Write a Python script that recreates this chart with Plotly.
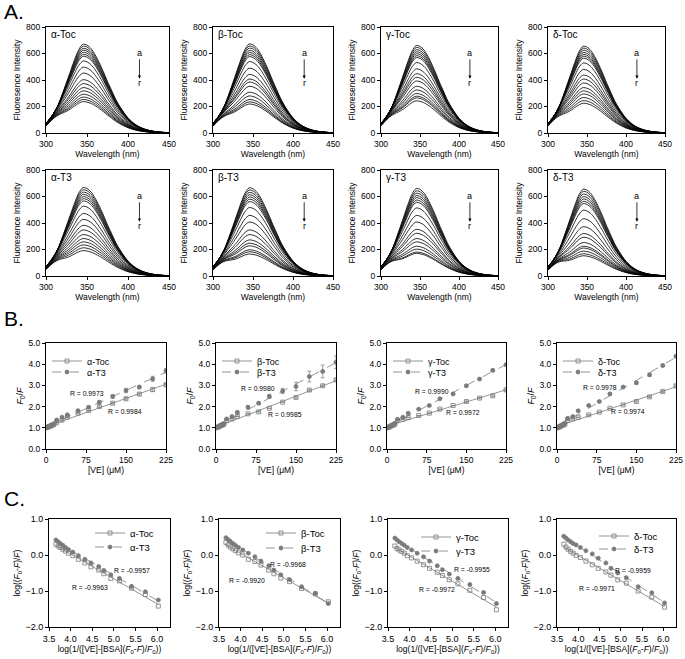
import numpy as np
import plotly.graph_objects as go

W, H = 685, 659
FONT = "Liberation Sans, Arial, sans-serif"
GRAY = "#7a7a7a"

# ---------------- Panel A data ----------------
WAVELENGTH = list(range(300, 451, 5))
# normalised emission shape of BSA (top curve / its peak)
BASE_SHAPE = [0.11, 0.16, 0.23, 0.32, 0.44, 0.57, 0.70, 0.83, 0.94, 1.00, 0.99,
              0.95, 0.88, 0.79, 0.69, 0.58, 0.48, 0.38, 0.30, 0.23, 0.17, 0.125,
              0.09, 0.064, 0.045, 0.031, 0.021, 0.014, 0.009, 0.006, 0.004]
# normalised shoulder (VE emission) near 310-315 nm
VE_BAND = [0.45, 0.80, 1.00, 1.00, 0.78, 0.50, 0.30, 0.17, 0.09, 0.05, 0.025,
           0.01, 0, 0, 0, 0, 0, 0, 0, 0, 0, 0, 0, 0, 0, 0, 0, 0, 0, 0, 0]
VE_BAND_AMP = [0, 4, 8, 12, 16, 19, 22, 28, 35, 41, 47, 51, 54, 56, 58, 59, 60, 60]
CURVE_LABELS = list("abcdefghijklmnopqr")

PEAK_ALPHA_TOC = [670, 655, 638, 624, 608, 592, 578, 542, 495, 450, 400, 370, 340, 315, 290, 268, 250, 234]
PEAK_BETA_TOC = [672, 656, 640, 622, 606, 590, 575, 537, 487, 440, 405, 382, 350, 305, 277, 250, 232, 216]
PEAK_GAMMA_TOC = [660, 645, 628, 612, 597, 582, 568, 530, 482, 445, 418, 390, 350, 322, 295, 275, 262, 240]
PEAK_DELTA_TOC = [655, 640, 624, 607, 592, 578, 563, 527, 478, 435, 405, 375, 340, 315, 292, 265, 242, 222]
PEAK_ALPHA_T3 = [667, 650, 632, 615, 598, 582, 565, 525, 470, 425, 380, 345, 310, 280, 255, 232, 210, 189]
PEAK_BETA_T3 = [665, 648, 630, 612, 595, 578, 560, 515, 455, 405, 345, 310, 270, 245, 225, 195, 180, 163]
PEAK_GAMMA_T3 = [660, 642, 624, 606, 590, 572, 555, 512, 455, 405, 350, 320, 280, 255, 222, 200, 178, 168]
PEAK_DELTA_T3 = [655, 638, 618, 598, 580, 562, 545, 495, 430, 370, 318, 290, 250, 222, 208, 185, 165, 150]

A_NAMES = ["α-Toc", "β-Toc", "γ-Toc", "δ-Toc", "α-T3", "β-T3", "γ-T3", "δ-T3"]
A_PEAKS = [PEAK_ALPHA_TOC, PEAK_BETA_TOC, PEAK_GAMMA_TOC, PEAK_DELTA_TOC,
           PEAK_ALPHA_T3, PEAK_BETA_T3, PEAK_GAMMA_T3, PEAK_DELTA_T3]

# ---------------- Panel B data ----------------
VE_CONC = [0, 2.5, 5, 7.5, 10, 12.5, 15, 20, 30, 40, 60, 80, 100, 125, 150, 175, 200, 225]
F0F_ALPHA_TOC = [1.00, 1.02, 1.05, 1.07, 1.10, 1.13, 1.16, 1.24, 1.36, 1.50, 1.69, 1.82, 2.00, 2.16, 2.37, 2.59, 2.80, 3.03]
F0F_ALPHA_T3 = [1.00, 1.03, 1.06, 1.09, 1.12, 1.16, 1.19, 1.37, 1.50, 1.61, 1.81, 1.97, 2.21, 2.48, 2.76, 2.92, 3.31, 3.69]
F0F_BETA_TOC = [1.00, 1.02, 1.05, 1.08, 1.11, 1.14, 1.17, 1.34, 1.42, 1.53, 1.66, 1.75, 1.92, 2.21, 2.43, 2.78, 2.98, 3.26]
F0F_BETA_T3 = [1.00, 1.03, 1.06, 1.10, 1.13, 1.17, 1.20, 1.42, 1.53, 1.73, 1.97, 2.16, 2.48, 2.74, 2.95, 3.42, 3.66, 4.09]
F0F_GAMMA_TOC = [1.00, 1.02, 1.05, 1.08, 1.11, 1.14, 1.17, 1.34, 1.40, 1.48, 1.58, 1.69, 1.88, 2.05, 2.24, 2.40, 2.51, 2.79]
F0F_GAMMA_T3 = [1.00, 1.03, 1.06, 1.10, 1.13, 1.17, 1.21, 1.40, 1.50, 1.69, 1.88, 2.05, 2.37, 2.60, 2.98, 3.30, 3.71, 3.97]
F0F_DELTA_TOC = [1.00, 1.02, 1.05, 1.08, 1.11, 1.14, 1.17, 1.34, 1.42, 1.50, 1.61, 1.74, 1.92, 2.08, 2.24, 2.46, 2.71, 2.98]
F0F_DELTA_T3 = [1.00, 1.03, 1.07, 1.10, 1.14, 1.18, 1.22, 1.45, 1.53, 1.80, 2.05, 2.24, 2.60, 2.92, 3.12, 3.50, 3.94, 4.37]
ERR_ALPHA_TOC = [0, 0, 0, 0, 0, 0, 0, 0, 0, 0, 0, 0, 0.04, 0.04, 0.05, 0.05, 0.08, 0.06]
ERR_ALPHA_T3 = [0, 0, 0, 0, 0, 0, 0, 0, 0, 0, 0.04, 0.05, 0.06, 0.08, 0.10, 0.08, 0.12, 0.10]
ERR_BETA_TOC = [0, 0, 0, 0, 0, 0, 0, 0, 0, 0, 0, 0, 0, 0, 0.03, 0.04, 0.04, 0.05]
ERR_BETA_T3 = [0, 0, 0, 0, 0, 0, 0, 0, 0, 0.04, 0.08, 0.06, 0.10, 0.12, 0.20, 0.25, 0.30, 0.30]
ERR_GAMMA_TOC = [0, 0, 0, 0, 0, 0, 0, 0, 0, 0, 0, 0, 0, 0, 0.03, 0.03, 0.04, 0.04]
ERR_GAMMA_T3 = [0, 0, 0, 0, 0, 0, 0, 0, 0, 0, 0.03, 0.03, 0.04, 0.05, 0.05, 0.05, 0.06, 0.06]
ERR_DELTA_TOC = [0, 0, 0, 0, 0, 0, 0, 0, 0, 0, 0, 0, 0, 0, 0.03, 0.03, 0.04, 0.04]
ERR_DELTA_T3 = [0, 0, 0, 0, 0, 0, 0, 0, 0, 0, 0.03, 0.04, 0.05, 0.05, 0.06, 0.08, 0.06, 0.06]
R_B_TOC = ["R = 0.9984", "R = 0.9985", "R = 0.9972", "R = 0.9974"]
R_B_T3 = ["R = 0.9973", "R = 0.9980", "R = 0.9990", "R = 0.9978"]

# ---------------- Panel C data ----------------
LOGX = [3.66, 3.71, 3.76, 3.82, 3.88, 3.95, 4.05, 4.18, 4.33, 4.47, 4.65, 4.77, 4.93, 5.13, 5.41, 5.73, 6.03]
LOGY_ALPHA_TOC = [0.30, 0.25, 0.21, 0.16, 0.11, 0.05, -0.02, -0.12, -0.22, -0.33, -0.42, -0.52, -0.65, -0.72, -0.92, -1.10, -1.42]
LOGY_ALPHA_T3 = [0.42, 0.37, 0.32, 0.27, 0.21, 0.15, 0.08, -0.02, -0.12, -0.22, -0.32, -0.43, -0.55, -0.65, -0.87, -1.02, -1.25]
LOGY_BETA_TOC = [0.35, 0.28, 0.22, 0.17, 0.12, 0.06, 0.00, -0.12, -0.18, -0.28, -0.42, -0.52, -0.64, -0.74, -0.93, -1.08, -1.30]
LOGY_BETA_T3 = [0.48, 0.43, 0.38, 0.32, 0.27, 0.21, 0.14, 0.05, -0.05, -0.17, -0.30, -0.42, -0.55, -0.68, -0.88, -1.06, -1.35]
LOGY_GAMMA_TOC = [0.25, 0.18, 0.14, 0.10, 0.05, -0.02, -0.08, -0.17, -0.27, -0.37, -0.48, -0.57, -0.69, -0.80, -0.98, -1.18, -1.52]
LOGY_GAMMA_T3 = [0.47, 0.42, 0.37, 0.32, 0.27, 0.21, 0.14, 0.05, -0.05, -0.17, -0.30, -0.41, -0.53, -0.65, -0.82, -1.04, -1.35]
LOGY_DELTA_TOC = [0.30, 0.22, 0.16, 0.10, 0.05, -0.01, -0.07, -0.17, -0.27, -0.37, -0.47, -0.56, -0.69, -0.78, -1.00, -1.17, -1.45]
LOGY_DELTA_T3 = [0.52, 0.47, 0.42, 0.37, 0.32, 0.28, 0.21, 0.12, 0.03, -0.09, -0.22, -0.37, -0.50, -0.63, -0.88, -1.05, -1.33]
R_C_TOC = ["R = -0.9963", "R = -0.9920", "R = -0.9972", "R = -0.9971"]
R_C_T3 = ["R = -0.9957", "R = -0.9968", "R = -0.9955", "R = -0.9959"]

GREEK = ["α", "β", "γ", "δ"]
B_TOC = [F0F_ALPHA_TOC, F0F_BETA_TOC, F0F_GAMMA_TOC, F0F_DELTA_TOC]
B_T3 = [F0F_ALPHA_T3, F0F_BETA_T3, F0F_GAMMA_T3, F0F_DELTA_T3]
B_ERR_TOC = [ERR_ALPHA_TOC, ERR_BETA_TOC, ERR_GAMMA_TOC, ERR_DELTA_TOC]
B_ERR_T3 = [ERR_ALPHA_T3, ERR_BETA_T3, ERR_GAMMA_T3, ERR_DELTA_T3]
C_TOC = [LOGY_ALPHA_TOC, LOGY_BETA_TOC, LOGY_GAMMA_TOC, LOGY_DELTA_TOC]
C_T3 = [LOGY_ALPHA_T3, LOGY_BETA_T3, LOGY_GAMMA_T3, LOGY_DELTA_T3]

# ---------------- layout helpers ----------------
A_COLS = [(46, 169), (213, 333), (381, 498), (548, 665)]
A_ROWS = [(27, 133), (170, 276)]
B_COLS = [(46, 166), (216, 336), (387, 506), (557, 676)]
B_ROW = (343, 449)
C_COLS = [(49, 170), (219, 340), (388, 508), (557, 676)]
C_ROW = (519, 627)


def xdom(c):
    return [c[0] / W, c[1] / W]


def ydom(r):
    return [1 - r[1] / H, 1 - r[0] / H]


fig = go.Figure()
layout = {}
annotations = []
axis_id = [0]
legend_id = [0]


def new_axes(xc, yr, xopt, yopt):
    axis_id[0] += 1
    i = axis_id[0]
    sfx = "" if i == 1 else str(i)
    base = dict(showline=True, mirror=True, linecolor="black", linewidth=1,
                ticks="outside", ticklen=3, tickcolor="black", showgrid=False,
                zeroline=False, automargin=False,
                tickfont=dict(size=8.5, color="black", family=FONT))
    xa = dict(base, domain=xdom(xc), anchor="y" + sfx)
    xa.update(xopt)
    ya = dict(base, domain=ydom(yr), anchor="x" + sfx)
    ya.update(yopt)
    layout["xaxis" + sfx] = xa
    layout["yaxis" + sfx] = ya
    return "x" + sfx, "y" + sfx


def new_legend(xpx, ypx, size):
    legend_id[0] += 1
    name = "legend" if legend_id[0] == 1 else "legend%d" % legend_id[0]
    layout[name] = dict(x=xpx / W, y=1 - ypx / H, xanchor="left", yanchor="middle",
                        bgcolor="rgba(0,0,0,0)", borderwidth=0,
                        font=dict(size=size, family=FONT, color="black"),
                        itemwidth=30, tracegroupgap=0)
    return name


def title(text, size=8.5, standoff=2):
    return dict(text=text, font=dict(size=size, family=FONT, color="black"), standoff=standoff)


# ---------------- Panel A ----------------
for k, (name, peaks) in enumerate(zip(A_NAMES, A_PEAKS)):
    row, col = divmod(k, 4)
    xr, yr = new_axes(A_COLS[col], A_ROWS[row],
                      dict(range=[300, 450], tickvals=[300, 350, 400, 450],
                           title=title("Wavelength (nm)")),
                      dict(range=[0, 800], tickvals=[0, 200, 400, 600, 800],
                           title=title("Fluoresence Intensity", standoff=4)))
    shape = np.array(BASE_SHAPE)
    band = np.array(VE_BAND)
    for j, lab in enumerate(CURVE_LABELS):
        yv = peaks[j] * shape + VE_BAND_AMP[j] * band
        fig.add_trace(go.Scatter(x=WAVELENGTH, y=yv, mode="lines", name=lab,
                                 line=dict(color="black", width=0.8, shape="spline", smoothing=0.8),
                                 showlegend=False, xaxis=xr, yaxis=yr, hoverinfo="skip"))
    annotations.append(dict(x=304, y=745, xref=xr, yref=yr, text=name, showarrow=False,
                            xanchor="left", yanchor="middle",
                            font=dict(size=10, family=FONT, color="black")))
    # "a" label with an arrow pointing down towards "r"
    annotations.append(dict(x=414, y=410, ax=414, ay=605, xref=xr, yref=yr,
                            axref=xr, ayref=yr, text="a", showarrow=True,
                            arrowhead=2, arrowsize=0.8, arrowwidth=0.8, arrowcolor="black",
                            font=dict(size=9, family=FONT, color="black")))
    annotations.append(dict(x=414, y=375, xref=xr, yref=yr, text="r", showarrow=False,
                            font=dict(size=9, family=FONT, color="black")))

MSIZE = 4

# ---------------- Panel B ----------------
B_LEG_X = [46, 216, 387, 557]
for k in range(4):
    g = GREEK[k]
    xr, yr = new_axes(B_COLS[k], B_ROW,
                      dict(range=[0, 225], tickvals=[0, 75, 150, 225],
                           title=title("[VE] (μM)")),
                      dict(range=[0, 5], tickvals=[0, 1, 2, 3, 4, 5], tickformat=".1f",
                           title=title("<i>F</i><sub>0</sub>/<i>F</i>", size=9, standoff=3)))
    for vals, err, dash, sym, nm, ly in [
            (B_TOC[k], B_ERR_TOC[k], "solid", "square-open", g + "-Toc", 361),
            (B_T3[k], B_ERR_T3[k], "dash", "circle", g + "-T3", 372)]:
        a, b = np.polyfit(VE_CONC, vals, 1)
        fx = np.array([0, 225])
        fig.add_trace(go.Scatter(x=fx, y=a * fx + b, mode="lines",
                                 line=dict(color=GRAY, width=0.8, dash=dash),
                                 showlegend=False, xaxis=xr, yaxis=yr, hoverinfo="skip"))
        fig.add_trace(go.Scatter(x=VE_CONC, y=vals, mode="markers",
                                 marker=dict(symbol=sym, size=MSIZE, color=GRAY,
                                             line=dict(color=GRAY, width=0.8)),
                                 error_y=dict(type="data", array=err, color=GRAY,
                                              thickness=0.7, width=2),
                                 showlegend=False, xaxis=xr, yaxis=yr))
        leg = new_legend(B_LEG_X[k] + 1, ly, 9)
        fig.add_trace(go.Scatter(x=[None], y=[None], mode="lines+markers", name=nm,
                                 line=dict(color=GRAY, width=0.8, dash=dash),
                                 marker=dict(symbol=sym, size=MSIZE, color=GRAY,
                                             line=dict(color=GRAY, width=0.8)),
                                 legend=leg, xaxis=xr, yaxis=yr))
    rpos_t3 = [(77, 2.62), (79, 2.85), (85, 2.69), (81, 2.88)][k]
    rpos_toc = [(148, 1.75), (129, 1.65), (144, 1.70), (134, 1.79)][k]
    annotations.append(dict(x=rpos_t3[0], y=rpos_t3[1], xref=xr, yref=yr, text=R_B_T3[k],
                            showarrow=False, font=dict(size=6.8, family=FONT, color="black")))
    annotations.append(dict(x=rpos_toc[0], y=rpos_toc[1], xref=xr, yref=yr, text=R_B_TOC[k],
                            showarrow=False, font=dict(size=6.8, family=FONT, color="black")))

# ---------------- Panel C ----------------
C_LEG_X = [90, 261, 416, 594]
C_LEG_Y = [(533, 547), (533, 548), (537, 551), (536, 549)]
for k in range(4):
    g = GREEK[k]
    xr, yr = new_axes(C_COLS[k], C_ROW,
                      dict(range=[3.5, 6.3], tickvals=[3.5, 4.0, 4.5, 5.0, 5.5, 6.0], tickformat=".1f",
                           tickfont=dict(size=9, family=FONT, color="black"),
                           title=title("log(1/([VE]-[BSA](<i>F</i><sub>0</sub>-<i>F</i>)/<i>F</i><sub>0</sub>))", size=8.5)),
                      dict(range=[-2, 1], tickvals=[-2, -1, 0, 1], tickformat=".1f",
                           tickfont=dict(size=9, family=FONT, color="black"),
                           title=title("log((<i>F</i><sub>0</sub>-<i>F</i>)/<i>F</i>)", size=8.5, standoff=3)))
    for vals, dash, sym, nm, ly in [(C_TOC[k], "solid", "square-open", g + "-Toc", C_LEG_Y[k][0]),
                                    (C_T3[k], "dash", "circle", g + "-T3", C_LEG_Y[k][1])]:
        a, b = np.polyfit(LOGX, vals, 1)
        fx = np.array([min(LOGX), max(LOGX)])
        fig.add_trace(go.Scatter(x=fx, y=a * fx + b, mode="lines",
                                 line=dict(color=GRAY, width=0.8, dash=dash),
                                 showlegend=False, xaxis=xr, yaxis=yr, hoverinfo="skip"))
        fig.add_trace(go.Scatter(x=LOGX, y=vals, mode="markers",
                                 marker=dict(symbol=sym, size=MSIZE, color=GRAY,
                                             line=dict(color=GRAY, width=0.8)),
                                 showlegend=False, xaxis=xr, yaxis=yr))
        leg = new_legend(C_LEG_X[k], ly, 9.5)
        fig.add_trace(go.Scatter(x=[None], y=[None], mode="lines+markers", name=nm,
                                 line=dict(color=GRAY, width=0.8, dash=dash),
                                 marker=dict(symbol=sym, size=MSIZE, color=GRAY,
                                             line=dict(color=GRAY, width=0.8)),
                                 legend=leg, xaxis=xr, yaxis=yr))
    rpos_t3 = [(5.42, -0.42), (5.10, -0.25), (5.46, -0.39), (5.29, -0.42)][k]
    rpos_toc = [(4.45, -0.89), (4.15, -0.72), (4.64, -0.97), (4.44, -0.92)][k]
    annotations.append(dict(x=rpos_t3[0], y=rpos_t3[1], xref=xr, yref=yr, text=R_C_T3[k],
                            showarrow=False, font=dict(size=6.8, family=FONT, color="black")))
    annotations.append(dict(x=rpos_toc[0], y=rpos_toc[1], xref=xr, yref=yr, text=R_C_TOC[k],
                            showarrow=False, font=dict(size=6.8, family=FONT, color="black")))

# panel letters
for letter, ypx in [("A.", 12), ("B.", 318), ("C.", 498)]:
    annotations.append(dict(x=2 / W, y=1 - ypx / H, xref="paper", yref="paper", text=letter,
                            showarrow=False, xanchor="left", yanchor="middle",
                            font=dict(size=21, family=FONT, color="black")))

layout["annotations"] = annotations
fig.update_layout(**layout)
fig.update_layout(width=W, height=H,
                  margin=dict(l=0, r=0, t=0, b=0, autoexpand=False),
                  paper_bgcolor="white", plot_bgcolor="white",
                  font=dict(family=FONT, color="black"))
fig.write_html("out.html", config={"displayModeBar": False},
               post_script="document.body.style.margin='0';document.body.style.overflow='hidden';")
